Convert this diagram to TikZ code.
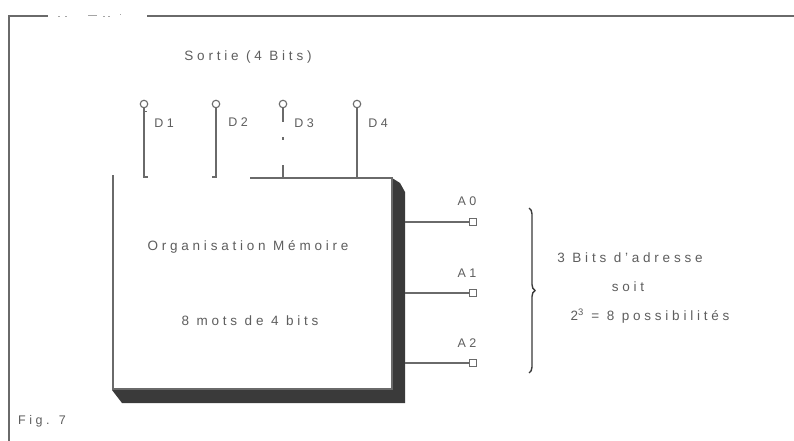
\documentclass[tikz,border=0pt]{standalone}
\usepackage{fontspec}
\setmainfont[LetterSpace=28]{Liberation Sans}
\usetikzlibrary{decorations.pathreplacing}
\definecolor{ink}{HTML}{6A6A6A}
\definecolor{txt}{HTML}{5E5E5E}
\definecolor{shadowcol}{HTML}{3A3A3A}
\tikzset{
  wire/.style={draw=ink, line width=1.2pt},
  lbl/.style={text=txt, font=\fontsize{12.5}{13}\selectfont, inner sep=0pt},
  big/.style={text=txt, font=\fontsize{13.5}{14}\selectfont, inner sep=0pt},
  pinc/.style={circle, draw=ink, line width=1.1pt, minimum size=7.5pt, inner sep=0pt},
  pins/.style={rectangle, draw=ink, line width=1.1pt, minimum size=7pt, inner sep=0pt}
}
\begin{document}
\begin{tikzpicture}[x=1pt,y=-1pt]
\useasboundingbox (0,0) rectangle (794,441);
\fill[white] (0,0) rectangle (794,441);
% frame
\draw[wire] (9,441) -- (9,16) -- (48,16);
\draw[wire] (147,16) -- (794,16);
\draw[ink!60, line width=0.8pt] (58,16) -- (60,16) (65,16) -- (67,16) (88,15) -- (97,15) (103,16) -- (105,16) (108,16)--(110,16) (120,14)--(121,14);
% title
\node[big] (title) at (248,57) {Sortie (4 Bits)};
% shadow of box
\fill[shadowcol] (392,178) -- (400,183) -- (405,192) -- (405,403) -- (122,403) -- (112,390) -- (392,390) -- cycle;
% box
\fill[white] (113,178) rectangle (392,389);
\coordinate (bTL) at (113,175);
\coordinate (bBL) at (113,389);
\coordinate (bBR) at (392,389);
\coordinate (bTR) at (392,178);
\coordinate (bTM) at (250,178);
\draw[wire] (bTL) -- (bBL) -- (bBR) -- (bTR) -- (bTM);
\node[big] (org) at (248,247) {Organisation Mémoire};
\node[big] (mots) at (250,321) {8 mots de 4 bits};
% output pins
\node[pinc] (p1) at (144,104) {};
\node[pinc] (p2) at (216,104) {};
\node[pinc] (p3) at (283,104) {};
\node[pinc] (p4) at (357,104) {};
\coordinate (e1) at (144,177);
\coordinate (e2) at (216,177);
\coordinate (e3) at (283,178);
\coordinate (e4) at (357,178);
\draw[wire] (p1) -- (e1) -- ++(4,0);
\draw[wire] (p1.south) ++(0,3) -- ++(3,0);
\draw[wire] (p2) -- (e2) -- ++(-4,0);
\draw[wire] (p3) -- (283,122);
\draw[wire] (283,137) -- (283,140);
\draw[wire] (283,165) -- (e3);
\draw[wire] (p4) -- (e4);
\node[lbl] (d1) at (164,123) {D1};
\node[lbl] (d2) at (238,122) {D2};
\node[lbl] (d3) at (304,123) {D3};
\node[lbl] (d4) at (378,123) {D4};
% address pins
\node[pins] (a0) at (473,222) {};
\node[pins] (a1) at (473,293) {};
\node[pins] (a2) at (473,363) {};
\coordinate (s0) at (405,222);
\coordinate (s1) at (405,293);
\coordinate (s2) at (405,363);
\draw[wire] (s0) -- (a0);
\draw[wire] (s1) -- (a1);
\draw[wire] (s2) -- (a2);
\node[lbl] (l0) at (467,201) {A0};
\node[lbl] (l1) at (467,273) {A1};
\node[lbl] (l2) at (467,343) {A2};
% brace
\coordinate (bt) at (529,208);
\coordinate (bb) at (529,373);
\draw[draw=shadowcol, line width=1.4pt, decorate, decoration={brace, amplitude=6pt}] (bt) -- (bb);
\node[big] (t1) at (630,258) {3 Bits d'adresse};
\node[big] (t2) at (628,287) {soit};
\node[big] (t3) at (650,316) {2\textsuperscript{3} = 8 possibilités};
% caption
\node[lbl] (fig) at (42,421) {Fig. 7};
\end{tikzpicture}
\end{document}
